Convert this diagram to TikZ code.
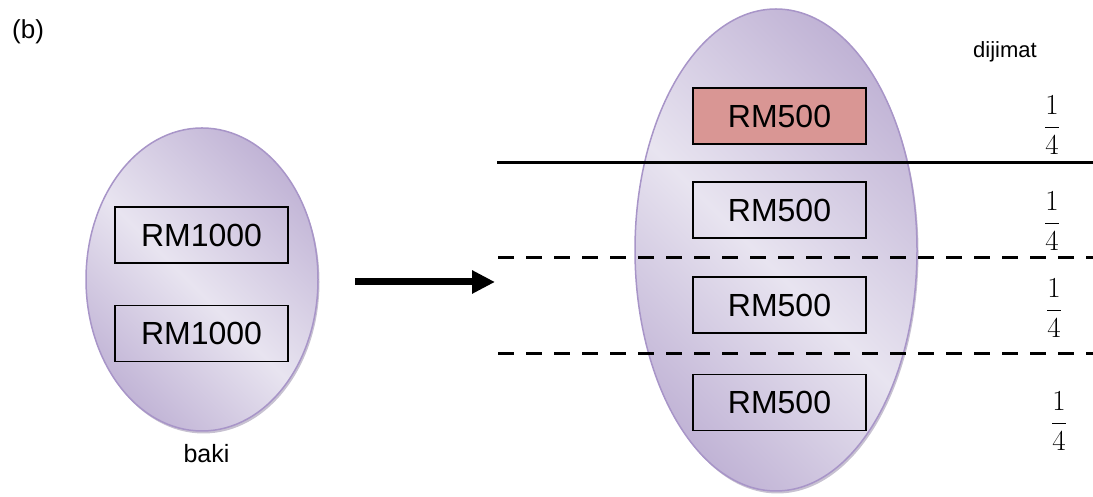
\RequirePackage{fix-cm}
\documentclass[tikz,border=0pt]{standalone}
\usepackage{fontspec}
\setmainfont{Liberation Sans}
\usetikzlibrary{shapes.geometric,arrows.meta,shadows}

\definecolor{lavlight}{HTML}{E8E4F0}
\definecolor{lavdark}{HTML}{BDAFD3}
\definecolor{lavedge}{HTML}{A895C8}
\definecolor{lavshadow}{HTML}{A297B2}
\definecolor{pinkfill}{HTML}{D99694}

% light diagonal band between two darker corners
\pgfdeclarehorizontalshading{lavband}{100bp}{%
  color(0bp)=(lavdark); color(22bp)=(lavdark);
  color(48bp)=(lavlight);
  color(78bp)=(lavdark); color(100bp)=(lavdark)}

\tikzset{
  blob/.style={ellipse, inner sep=0pt, shading=lavband, shading angle=45,
    draw=lavedge, line width=1.5pt,
    drop shadow={shadow xshift=1.5pt, shadow yshift=-2.5pt, opacity=.6, fill=lavshadow}},
  money/.style={draw=black, line width=1.5pt, minimum width=173pt,
    minimum height=56pt, inner sep=0pt, font=\fontsize{32}{38}\selectfont},
  label/.style={inner sep=0pt, font=\fontsize{22}{26}\selectfont},
  quarter/.style={inner sep=0pt, anchor=base, font=\fontsize{29}{34}\selectfont},
  cut/.style={line width=3pt, black},
  part/.style={line width=3pt, black, dash pattern=on 16pt off 12pt},
}

\begin{document}
\begin{tikzpicture}[x=1pt, y=1pt]
\useasboundingbox (0,0) rectangle (1093,497);

\node[label, anchor=base west, font=\fontsize{26}{30}\selectfont] (tag) at (12,458) {(b)};

% remaining money
\node[blob, minimum width=232pt, minimum height=303pt] (left) at (202,217.5) {};
\node[money] (a1) at (201.5,262) {RM1000};
\node[money] (a2) at (201.5,163.5) {RM1000};
\node[label, anchor=base, font=\fontsize{25}{30}\selectfont] (baki) at (206.5,34) {baki};

% transfer arrow
\coordinate (t0) at (355,215);
\coordinate (t1) at (495,215);
\draw[line width=7pt, -{Triangle[length=23pt, width=22pt]}] (t0) -- (t1);

% split into quarters
\node[blob, minimum width=282pt, minimum height=482pt] (right) at (776,247) {};

\coordinate (s0) at (497,334);  \coordinate (s1) at (1093,334);
\coordinate (d0) at (498,239);  \coordinate (d1) at (1093,239);
\coordinate (e0) at (498,143);  \coordinate (e1) at (1093,143);
\draw[cut] (s0) -- (s1);
\draw[part] (d0) -- (d1);
\draw[part] (e0) -- (e1);

\node[money, fill=pinkfill] (b1) at (779.5,381) {RM500};
\node[money] (b2) at (779.5,287) {RM500};
\node[money] (b3) at (779.5,192) {RM500};
\node[money] (b4) at (779.5,94.5) {RM500};

\node[label, anchor=base] (saved) at (1005,439) {dijimat};

\node[quarter] (f1) at (1052,362.75) {$\displaystyle\frac{1}{4}$};
\node[quarter] (f2) at (1052,266.75) {$\displaystyle\frac{1}{4}$};
\node[quarter] (f3) at (1054,179.75) {$\displaystyle\frac{1}{4}$};
\node[quarter] (f4) at (1059,66.75) {$\displaystyle\frac{1}{4}$};
\end{tikzpicture}
\end{document}
